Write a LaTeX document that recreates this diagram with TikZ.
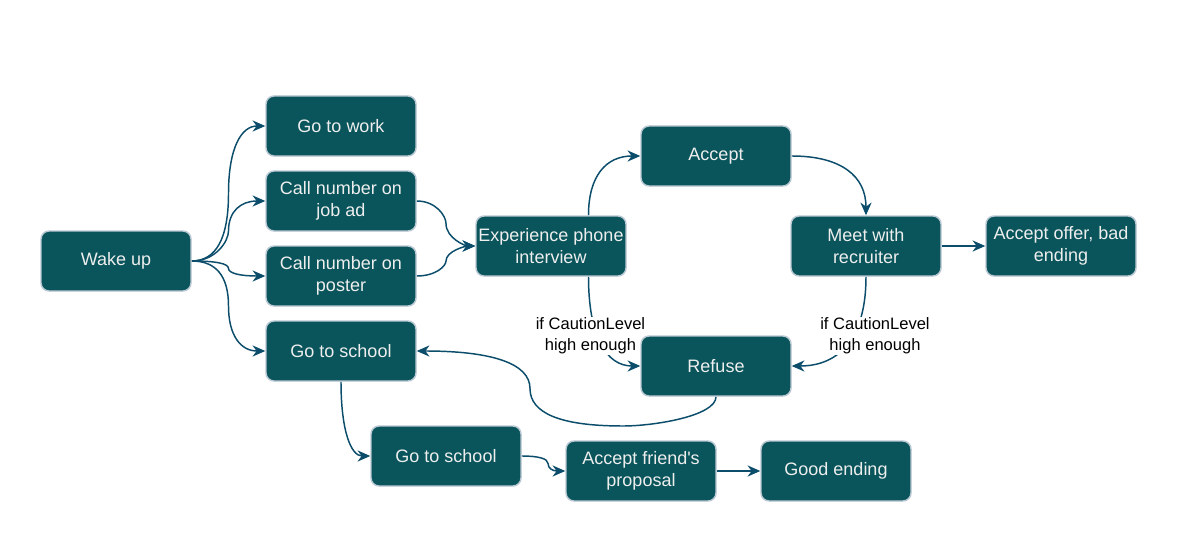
\documentclass[tikz,border=0pt]{standalone}
\usepackage{fontspec}
\setmainfont{Liberation Sans}
\usetikzlibrary{arrows.meta}
\pgfdeclarelayer{bg}
\pgfsetlayers{bg,main}
\definecolor{boxfill}{HTML}{09555B}
\definecolor{boxline}{HTML}{BAC8D3}
\definecolor{boxtext}{HTML}{EEEEEE}
\definecolor{edgecol}{HTML}{0B4D6A}
\begin{document}
\begin{tikzpicture}[x=0.75pt,y=-0.75pt,
  box/.style={draw=boxline, fill=boxfill, text=boxtext, line width=1.1pt,
    rounded corners=6pt, minimum width=112.5pt, minimum height=45pt,
    align=center, font=\fontsize{13.5}{16.4}\selectfont, inner sep=0pt},
  edge/.style={draw=edgecol, line width=1.1pt,
    -{Stealth[length=9.5pt,width=8.3pt,inset=3pt]}},
  lbl/.style={fill=white, text=black, align=center,
    font=\fontsize{12.4}{15.5}\selectfont, inner sep=1pt}]
\useasboundingbox (0,0) rectangle (1200,542);

\node[box] (wake) at (116,261) {Wake up};
\node[box] (work) at (341,126) {Go to work};
\node[box] (jobad) at (341,201) {Call number on\\job ad};
\node[box] (poster) at (341,276) {Call number on\\poster};
\node[box] (school) at (341,351) {Go to school};
\node[box] (exp) at (551,246) {Experience phone\\interview};
\node[box] (accept) at (716,156) {Accept};
\node[box] (refuse) at (716,366) {Refuse};
\node[box] (meet) at (866,246) {Meet with\\recruiter};
\node[box] (bad) at (1061,246) {Accept offer, bad\\ending};
\node[box] (schooltwo) at (446,456) {Go to school};
\node[box] (friend) at (641,471) {Accept friend\textquotesingle s\\proposal};
\node[box] (good) at (836,471) {Good ending};

\begin{pgfonlayer}{bg}
\fill[white] (0,0) rectangle (1200,542);
\draw[edge] (wake.east) .. controls (216,261) and (228.5,238.5) .. (228.5,193.5)
  .. controls (228.5,148.5) and (241,126) .. (work.west);
\draw[edge] (wake.east) .. controls (216,261) and (228.5,241) .. (228.5,231)
  .. controls (228.5,211) and (241,201) .. (jobad.west);
\draw[edge] (wake.east) .. controls (216,261) and (228.5,263.5) .. (228.5,268.5)
  .. controls (228.5,273.5) and (241,276) .. (poster.west);
\draw[edge] (wake.east) .. controls (216,261) and (228.5,276) .. (228.5,306)
  .. controls (228.5,336) and (241,351) .. (school.west);

\draw[edge] (jobad.east) .. controls (436,201) and (446,216) .. (446,223.5)
  .. controls (446,238.5) and (466,246) .. (exp.west);
\draw[edge] (poster.east) .. controls (436,276) and (446,266) .. (446,261)
  .. controls (446,251) and (466,246) .. (exp.west);

\draw[edge] ([xshift=28.125pt]exp.north) .. controls (588.5,176) and (606,156) .. (accept.west);
\draw[edge] ([xshift=28.125pt]exp.south) .. controls (588.5,336) and (606,366) .. (refuse.west);
\draw[edge] (accept.east) .. controls (841,156) and (866,176) .. (meet.north);
\draw[edge] (meet.south) .. controls (866,336) and (841,366) .. (refuse.east);
\draw[edge] (meet.east) -- (bad.west);

\draw[edge] (refuse.south) .. controls (716,416) and (654,426) .. (623,426)
  .. controls (561,426) and (530,413.5) .. (530,388.5)
  .. controls (530,363.5) and (492,351) .. (school.east);

\draw[edge] (school.south) .. controls (341,431) and (351,456) .. (schooltwo.west);
\draw[edge] (schooltwo.east) .. controls (538,456) and (548,458.5) .. (548,463.5)
  .. controls (548,468.5) and (553,471) .. (friend.west);
\draw[edge] (friend.east) -- (good.west);

\node[lbl] (lblone) at (590.5,336) {if CautionLevel\\high enough};
\node[lbl] (lbltwo) at (875,336) {if CautionLevel\\high enough};
\end{pgfonlayer}
\end{tikzpicture}
\end{document}
